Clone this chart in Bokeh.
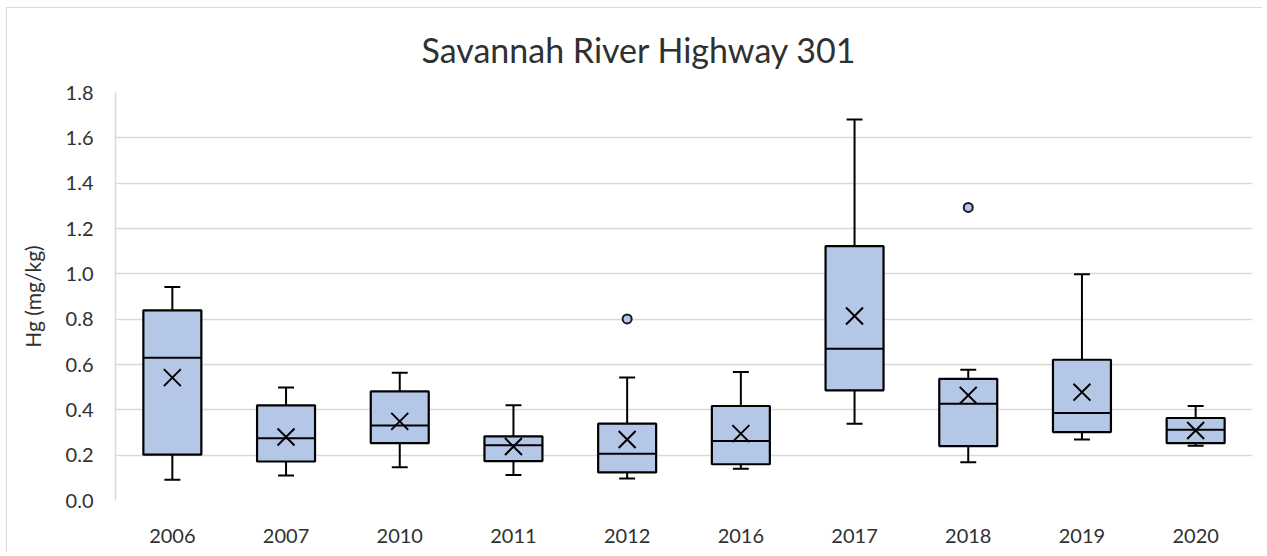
from bokeh.plotting import figure
from bokeh.models import (FactorRange, Range1d, ColumnDataSource, SingleIntervalTicker,
                          PrintfTickFormatter)
from bokeh.transform import dodge
from bokeh.embed import file_html
from bokeh.resources import INLINE

# ---- data ----
years = ["2006", "2007", "2010", "2011", "2012", "2016", "2017", "2018", "2019", "2020"]
whisker_low = [0.091, 0.110, 0.147, 0.112, 0.097, 0.140, 0.339, 0.169, 0.269, 0.242]
q1 = [0.202, 0.172, 0.253, 0.174, 0.124, 0.160, 0.486, 0.240, 0.302, 0.253]
median = [0.630, 0.275, 0.331, 0.244, 0.206, 0.262, 0.670, 0.427, 0.386, 0.312]
q3 = [0.839, 0.420, 0.481, 0.283, 0.339, 0.417, 1.122, 0.537, 0.621, 0.364]
whisker_high = [0.942, 0.499, 0.564, 0.420, 0.543, 0.567, 1.681, 0.577, 0.998, 0.417]
mean = [0.542, 0.280, 0.349, 0.238, 0.269, 0.295, 0.814, 0.464, 0.478, 0.309]
outlier_years = ["2012", "2018"]
outlier_values = [0.801, 1.293]

title_text = "Savannah River Highway 301"
y_label = "Hg (mg/kg)"

FONT = "Lato"
TEXT = "#303030"
FILL = "#B4C7E7"
GRID = "#D9D9D9"

src = ColumnDataSource(dict(year=years, lo=whisker_low, q1=q1, med=median,
                            q3=q3, hi=whisker_high, mean=mean))
out_src = ColumnDataSource(dict(year=outlier_years, val=outlier_values))

p = figure(width=1262, height=552, output_backend="svg", toolbar_location=None,
           x_range=FactorRange(*years, range_padding=0), y_range=Range1d(0, 1.8),
           min_border_left=115, min_border_right=10, min_border_top=92, min_border_bottom=52)
# thin light-grey chart-area border (top and left), as in the reference
p.styles = {"box-shadow": "inset 6px 7px 0 0 white, inset 7px 8px 0 0 #D9D9D9"}
p.outline_line_color = None
p.background_fill_color = "white"
p.border_fill_color = None

# title
p.title.text = title_text
p.title.align = "left"
p.title.offset = 306
p.title.standoff = 46
p.title.text_font = FONT
p.title.text_font_size = "34px"
p.title.text_font_style = "normal"
p.title.text_color = TEXT

# grid
p.xgrid.grid_line_color = None
p.ygrid.grid_line_color = GRID
p.ygrid.grid_line_width = 1.5

# axes
p.yaxis.ticker = SingleIntervalTicker(interval=0.2)
p.yaxis.formatter = PrintfTickFormatter(format="%.1f")
p.yaxis.axis_line_color = GRID
p.yaxis.axis_line_width = 1.5
p.yaxis.major_tick_line_color = None
p.yaxis.minor_tick_line_color = None
p.yaxis.major_label_standoff = 16
p.yaxis.axis_label = y_label
p.yaxis.axis_label_standoff = 18
p.yaxis.axis_label_text_font = FONT
p.yaxis.axis_label_text_font_size = "21px"
p.yaxis.axis_label_text_font_style = "normal"
p.yaxis.axis_label_text_color = TEXT

p.xaxis.axis_line_color = None
p.xaxis.major_tick_line_color = None
p.xaxis.minor_tick_line_color = None
p.xaxis.major_label_standoff = 22

for ax in (p.xaxis, p.yaxis):
    ax.major_label_text_font = FONT
    ax.major_label_text_font_size = "20px"
    ax.major_label_text_color = TEXT

# whiskers
p.segment(x0="year", y0="q3", x1="year", y1="hi", source=src, line_color="black", line_width=2)
p.segment(x0="year", y0="lo", x1="year", y1="q1", source=src, line_color="black", line_width=2)
p.segment(x0=dodge("year", -0.07, range=p.x_range), y0="hi",
          x1=dodge("year", 0.07, range=p.x_range), y1="hi", source=src, line_color="black", line_width=2)
p.segment(x0=dodge("year", -0.07, range=p.x_range), y0="lo",
          x1=dodge("year", 0.07, range=p.x_range), y1="lo", source=src, line_color="black", line_width=2)

# boxes
p.vbar(x="year", width=0.51, bottom="q1", top="q3", source=src,
       fill_color=FILL, line_color="black", line_width=2.2)
# medians
p.segment(x0=dodge("year", -0.255, range=p.x_range), y0="med",
          x1=dodge("year", 0.255, range=p.x_range), y1="med", source=src, line_color="black", line_width=2)
# means
p.scatter(x="year", y="mean", source=src, marker="x", size=24, line_color="black", line_width=2)
# outliers
p.scatter(x="year", y="val", source=out_src, marker="circle", size=9,
          fill_color=FILL, line_color="#1a1a1a", line_width=2)

open("out.html", "w").write(file_html(p, INLINE))
